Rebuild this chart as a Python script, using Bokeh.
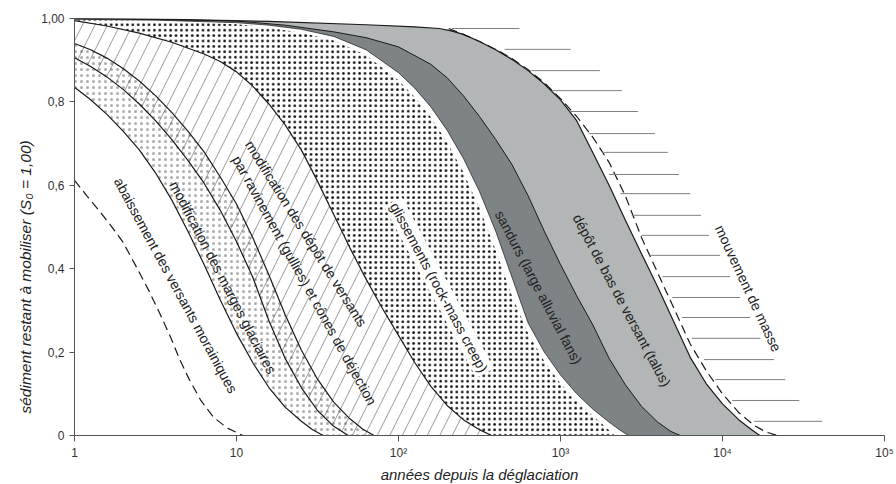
import math
from bokeh.plotting import figure
from bokeh.models import FixedTicker, Title
from bokeh.core.properties import value
from bokeh.embed import file_html
from bokeh.resources import INLINE

# ------------- data: x = log10(years since deglaciation), y = sediment remaining (S0 = 1) -------------
# dashed: abaissement des versants morainiques
d0_log = [0, 0.08, 0.161, 0.229, 0.297, 0.377, 0.458, 0.526, 0.594, 0.65, 0.705, 0.78, 0.86, 0.947, 1.04]
d0_val = [0.612, 0.573, 0.535, 0.501, 0.465, 0.408, 0.348, 0.293, 0.235, 0.182, 0.137, 0.084, 0.043, 0.017, 0]

# lower edge of the glacier-margin band
c1_log = [0, 0.1, 0.2, 0.3, 0.4, 0.5, 0.6, 0.7, 0.8, 0.9, 1.0, 1.1, 1.2, 1.3, 1.4, 1.47, 1.535]
c1_val = [0.835, 0.805, 0.77, 0.73, 0.685, 0.63, 0.565, 0.49, 0.41, 0.325, 0.245, 0.175, 0.115, 0.068, 0.034, 0.014, 0]

c2_log = [0, 0.1, 0.2, 0.3, 0.4, 0.5, 0.6, 0.7, 0.8, 0.9, 1.0, 1.1, 1.2, 1.3, 1.4, 1.5, 1.6, 1.69]
c2_val = [0.906, 0.885, 0.86, 0.83, 0.795, 0.755, 0.71, 0.66, 0.605, 0.54, 0.465, 0.38, 0.275, 0.185, 0.115, 0.06, 0.022, 0]

c3_log = [0, 0.1, 0.2, 0.3, 0.4, 0.5, 0.6, 0.7, 0.8, 0.9, 1.0, 1.1, 1.2, 1.3, 1.4, 1.5, 1.6, 1.7, 1.78, 1.85]
c3_val = [0.94, 0.925, 0.905, 0.88, 0.85, 0.815, 0.775, 0.73, 0.68, 0.62, 0.555, 0.475, 0.385, 0.29, 0.205, 0.135, 0.08, 0.04, 0.015, 0]

# upper edge of the gullying band / lower edge of rock-mass creep
c4_log = [0, 0.2, 0.4, 0.6, 0.8, 0.9, 1.0, 1.1, 1.2, 1.3, 1.4, 1.5, 1.6, 1.7, 1.8, 1.9, 2.0, 2.1, 2.2, 2.3, 2.4, 2.5, 2.574]
c4_val = [0.995, 0.982, 0.965, 0.943, 0.915, 0.897, 0.872, 0.838, 0.795, 0.745, 0.685, 0.61, 0.53, 0.45,
          0.375, 0.305, 0.24, 0.175, 0.118, 0.072, 0.038, 0.014, 0]

# upper edge of rock-mass creep
c5_log = [0, 0.5, 1.0, 1.2, 1.4, 1.6, 1.8, 2.0, 2.1, 2.2, 2.3, 2.4, 2.5, 2.6, 2.7, 2.8, 2.9, 3.0, 3.1, 3.2, 3.28, 3.335]
c5_val = [0.997, 0.994, 0.986, 0.978, 0.966, 0.947, 0.912, 0.852, 0.812, 0.763, 0.703, 0.632, 0.545, 0.445,
          0.335, 0.245, 0.178, 0.125, 0.083, 0.047, 0.02, 0]

# lower edge of sandurs
c6_log = [0, 0.5, 1.0, 1.2, 1.4, 1.6, 1.8, 2.0, 2.1, 2.2, 2.3, 2.4, 2.5, 2.6, 2.7, 2.8, 2.9, 3.0, 3.1, 3.2, 3.3, 3.37, 3.42]
c6_val = [0.998, 0.996, 0.99, 0.984, 0.974, 0.957, 0.925, 0.87, 0.833, 0.788, 0.732, 0.665, 0.585, 0.49,
          0.38, 0.27, 0.2, 0.145, 0.1, 0.063, 0.032, 0.012, 0]

# sandurs / talus boundary
c7_log = [0, 0.5, 1.0, 1.3, 1.6, 1.8, 2.0, 2.2, 2.3, 2.4, 2.5, 2.6, 2.7, 2.8, 2.9, 3.0, 3.1, 3.2, 3.3, 3.4, 3.5, 3.6, 3.68, 3.74]
c7_val = [1.0, 0.998, 0.994, 0.984, 0.968, 0.954, 0.932, 0.89, 0.858, 0.815, 0.765, 0.71, 0.65, 0.575,
          0.49, 0.41, 0.335, 0.265, 0.185, 0.122, 0.07, 0.032, 0.01, 0]

# upper edge of talus
c8_log = [0, 0.6, 1.2, 1.8, 2.1, 2.25, 2.32, 2.4, 2.5, 2.6, 2.7, 2.8, 2.9, 3.0, 3.1, 3.2, 3.3, 3.4, 3.5, 3.6,
          3.7, 3.8, 3.9, 4.0, 4.1, 4.18, 4.23]
c8_val = [1.0, 0.998, 0.993, 0.985, 0.98, 0.976, 0.971, 0.962, 0.945, 0.925, 0.902, 0.875, 0.843, 0.805,
          0.755, 0.678, 0.6, 0.517, 0.436, 0.356, 0.272, 0.188, 0.124, 0.076, 0.038, 0.014, 0]

# dashed: mouvement de masse
d1_log = [2.31, 2.4, 2.5, 2.6, 2.7, 2.8, 2.9, 3.0, 3.1, 3.2, 3.3, 3.4, 3.5, 3.6, 3.7, 3.8, 3.9, 4.0, 4.1, 4.2, 4.27, 4.34]
d1_val = [0.976, 0.962, 0.945, 0.926, 0.904, 0.877, 0.846, 0.808, 0.765, 0.715, 0.655, 0.575, 0.475, 0.39,
          0.305, 0.22, 0.155, 0.1, 0.055, 0.023, 0.008, 0]

mass_val = [0.976, 0.926, 0.875, 0.827, 0.777, 0.724, 0.679, 0.626, 0.580, 0.528,
            0.480, 0.432, 0.381, 0.331, 0.283, 0.233, 0.182, 0.134, 0.084, 0.034]
mass_start_log = [2.33, 2.655, 2.82, 2.945, 3.057, 3.174, 3.255, 3.30, 3.37, 3.44,
                  3.50, 3.55, 3.63, 3.69, 3.75, 3.81, 3.886, 3.955, 4.06, 4.195]
mass_end_log = [2.747, 3.063, 3.243, 3.379, 3.478, 3.583, 3.663, 3.731, 3.800, 3.868,
                3.917, 3.985, 4.047, 4.109, 4.171, 4.233, 4.319, 4.387, 4.474, 4.616]

x_ticks = [1, 10, 100, 1000, 10000, 100000]
x_tick_labels = ["1", "10", "10²", "10³", "10⁴", "10⁵"]
y_ticks = [0, 0.2, 0.4, 0.6, 0.8, 1.0]
y_tick_labels = ["0", "0,2", "0,4", "0,6", "0,8", "1,00"]

labels = ["abaissement des versants morainiques",
          "modification des marges glaciaires",
          "modification des dépôt de versants",
          "par ravinement (gullies) et cônes de déjection",
          "sandurs (large alluvial fans)",
          "dépôt de bas de versant (talus)",
          "mouvement de masse"]
label_years = [4.22, 8.24, 26.9, 26.3, 733, 2393, 14390]
label_vals = [0.36, 0.379, 0.484, 0.372, 0.355, 0.324, 0.353]
label_angles_deg = [61.5, 62.6, 58, 61, 62.4, 62, 65]

gl_label = "glissements (rock-mass creep)"
gl_year = 178
gl_val = 0.355
gl_angle_deg = 61.7

FONT = "Liberation Sans"
LIGHT = "#b2b6b6"
DARK = "#7e8386"


def yrs(logs):
    return [10 ** l for l in logs]


def under(logs, vals):
    return yrs(logs) + [1], list(vals) + [0]


p = figure(x_axis_type="log", x_range=(1, 1e5), y_range=(0, 1),
           frame_width=810, frame_height=417,
           min_border_left=74, min_border_right=12, min_border_top=18, min_border_bottom=49,
           output_backend="svg", toolbar_location=None)
p.outline_line_color = None
p.xgrid.visible = False
p.ygrid.visible = False
p.background_fill_color = "white"

# filled bands (outer to inner)
xs, ys = under(c8_log, c8_val)
p.patch(xs, ys, fill_color=LIGHT, line_color=None)
xs, ys = under(c7_log, c7_val)
p.patch(xs, ys, fill_color=DARK, line_color=None)
xs, ys = under(c6_log, c6_val)
p.patch(xs, ys, fill_color="white", line_color=None)
xs, ys = under(c5_log, c5_val)
p.patch(xs, ys, fill_color="white", line_color=None,
        hatch_pattern=".", hatch_scale=5.4, hatch_weight=2.0, hatch_color="#111")
xs, ys = under(c4_log, c4_val)
p.patch(xs, ys, fill_color="white", line_color=None,
        hatch_pattern="/", hatch_scale=25, hatch_weight=0.8, hatch_color="#808080")
xs, ys = under(c2_log, c2_val)
p.patch(xs, ys, fill_color="white", line_color=None)
xs, ys = under(c3_log, c3_val)
p.patch(xs, ys, fill_alpha=0, line_color=None,
        hatch_pattern=".", hatch_scale=6, hatch_weight=0, hatch_color="#333", hatch_alpha=0.4)
xs, ys = under(c1_log, c1_val)
p.patch(xs, ys, fill_color="white", line_color=None)

# outlines
for lg, vl, w in [(c1_log, c1_val, 1.2), (c2_log, c2_val, 1.2), (c3_log, c3_val, 1.2),
                  (c4_log, c4_val, 1.2), (c6_log, c6_val, 0.7), (c7_log, c7_val, 1.0),
                  (c8_log, c8_val, 1.2)]:
    p.line(yrs(lg), vl, line_color="#1a1a1a", line_width=w)

p.line(yrs(d0_log), d0_val, line_color="#1a1a1a", line_width=1.2, line_dash="9 5")
p.line(yrs(d1_log), d1_val, line_color="#1a1a1a", line_width=1.2, line_dash="9 5")

p.segment(x0=yrs(mass_start_log), y0=mass_val, x1=yrs(mass_end_log), y1=mass_val,
          line_color="#808080", line_width=1.0)

# labels
p.text(x=label_years, y=label_vals, text=labels,
       angle=[-math.radians(a) for a in label_angles_deg],
       text_font=value(FONT), text_font_size="14px", text_color="#222222",
       text_align="center", text_baseline="middle")
p.text(x=[gl_year], y=[gl_val], text=[gl_label], angle=[-math.radians(gl_angle_deg)],
       text_font=value(FONT), text_font_size="14px", text_color="#222222",
       text_align="center", text_baseline="middle",
       background_fill_color="white", padding=2)

# axes
p.xaxis.ticker = FixedTicker(ticks=x_ticks, minor_ticks=[])
p.xaxis.major_label_overrides = dict(zip(x_ticks, x_tick_labels))
p.yaxis.ticker = FixedTicker(ticks=y_ticks, minor_ticks=[])
p.yaxis.major_label_overrides = dict(zip(y_ticks, y_tick_labels))
for ax in (p.xaxis[0], p.yaxis[0]):
    ax.axis_line_color = "#555555"
    ax.major_tick_line_color = "#555555"
    ax.major_tick_in = 0
    ax.minor_tick_line_color = None
    ax.major_label_text_font = FONT
    ax.major_label_text_font_size = "12px"
    ax.major_label_text_color = "#333333"
p.xaxis.major_tick_out = 6
p.yaxis.major_tick_out = 5
p.xaxis.major_label_standoff = 4
p.yaxis.major_label_standoff = 5
p.xaxis.axis_label = "années depuis la déglaciation"
p.xaxis.axis_label_text_font = FONT
p.xaxis.axis_label_text_font_style = "italic"
p.xaxis.axis_label_text_font_size = "15px"
p.xaxis.axis_label_text_color = "#222222"
p.xaxis.axis_label_standoff = 3

ytitle = Title(text="sédiment restant à mobiliser  (S₀ = 1,00)", align="left", offset=22,
               text_font=FONT, text_font_style="italic", text_font_size="15.5px",
               text_color="#222222", standoff=10)
p.add_layout(ytitle, "left")

open("out.html", "w").write(file_html(p, INLINE))
